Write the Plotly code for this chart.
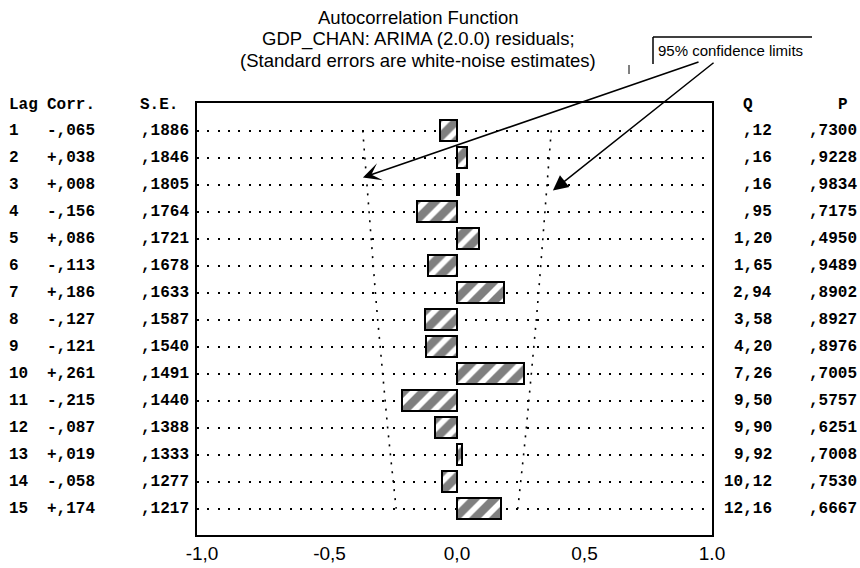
import plotly.graph_objects as go

# ---------------- data ----------------
lags = list(range(1, 16))
corr = [-0.065, 0.038, 0.008, -0.156, 0.086, -0.113, 0.186, -0.127,
        -0.121, 0.261, -0.215, -0.087, 0.019, -0.058, 0.174]
se = [0.1886, 0.1846, 0.1805, 0.1764, 0.1721, 0.1678, 0.1633, 0.1587,
      0.1540, 0.1491, 0.1440, 0.1388, 0.1333, 0.1277, 0.1217]
q_stat = [0.12, 0.16, 0.16, 0.95, 1.20, 1.65, 2.94, 3.58, 4.20, 7.26,
          9.50, 9.90, 9.92, 10.12, 12.16]
p_val = [0.7300, 0.9228, 0.9834, 0.7175, 0.4950, 0.9489, 0.8902, 0.8927,
         0.8976, 0.7005, 0.5757, 0.6251, 0.7008, 0.7530, 0.6667]
tick_vals = [-1, -0.5, 0, 0.5, 1]
tick_text = ["-1,0", "-0,5", "0,0", "0,5", "1.0"]
title_lines = ["Autocorrelation Function",
               "GDP_CHAN: ARIMA (2.0.0) residuals;",
               "(Standard errors are white-noise estimates)"]
conf_label = "95% confidence limits"
z = 1.96

# ---------------- layout geometry (pixels) ----------------
W, H = 860, 568
L, R, T, B = 197, 712, 103, 535
PW, PH = R - L, B - T


def px(xp):
    return (xp - L) / PW


def py(yp):
    return (B - yp) / PH


def fmt_corr(v):
    s = f"{v:+.3f}"
    return s.replace("0.", ",")


def fmt_dec(v, d):
    s = f"{v:.{d}f}"
    if s.startswith("0."):
        s = s[1:]
    return s.replace(".", ",")


fig = go.Figure()

# confidence limits
fig.add_trace(go.Scatter(x=[-z * s for s in se], y=lags, mode="lines",
                         line=dict(color="black", width=1.6, dash="2px,7px"),
                         hoverinfo="skip", showlegend=False))
fig.add_trace(go.Scatter(x=[z * s for s in se], y=lags, mode="lines",
                         line=dict(color="black", width=1.6, dash="2px,7px"),
                         hoverinfo="skip", showlegend=False))

# bars
fig.add_trace(go.Bar(x=corr, y=lags, orientation="h", width=0.75,
                     marker=dict(color="white",
                                 line=dict(color="black", width=2),
                                 pattern=dict(shape="/", fgcolor="black",
                                              bgcolor="white", size=14,
                                              solidity=0.6)),
                     showlegend=False))

mono = dict(family="Courier New, Liberation Mono, monospace", size=16,
            color="black", weight="bold")
ann = []
# header
ann.append(dict(text="Lag", x=px(7), y=0.04, xref="paper", yref="y",
                xanchor="left", yanchor="middle", showarrow=False, font=mono))
ann.append(dict(text="Corr.", x=px(45), y=0.04, xref="paper", yref="y",
                xanchor="left", yanchor="middle", showarrow=False, font=mono))
ann.append(dict(text="S.E.", x=px(138), y=0.04, xref="paper", yref="y",
                xanchor="left", yanchor="middle", showarrow=False, font=mono))
ann.append(dict(text="Q", x=px(748), y=0.04, xref="paper", yref="y",
                xanchor="center", yanchor="middle", showarrow=False, font=mono))
ann.append(dict(text="P", x=px(843), y=0.04, xref="paper", yref="y",
                xanchor="center", yanchor="middle", showarrow=False, font=mono))

for k, c, s, qv, pv in zip(lags, corr, se, q_stat, p_val):
    ann.append(dict(text=str(k), x=px(7), y=k, xref="paper", yref="y",
                    xanchor="left", yanchor="middle", showarrow=False, font=mono))
    ann.append(dict(text=fmt_corr(c), x=px(45), y=k, xref="paper", yref="y",
                    xanchor="left", yanchor="middle", showarrow=False, font=mono))
    ann.append(dict(text=fmt_dec(s, 4), x=px(191), y=k, xref="paper", yref="y",
                    xanchor="right", yanchor="middle", showarrow=False, font=mono))
    ann.append(dict(text=fmt_dec(qv, 2), x=px(774), y=k, xref="paper", yref="y",
                    xanchor="right", yanchor="middle", showarrow=False, font=mono))
    ann.append(dict(text=fmt_dec(pv, 4), x=px(859), y=k, xref="paper", yref="y",
                    xanchor="right", yanchor="middle", showarrow=False, font=mono))

# title
for line, yp in zip(title_lines, [18, 39, 60]):
    ann.append(dict(text=line, x=px(418), y=py(yp), xref="paper", yref="paper",
                    xanchor="center", yanchor="middle", showarrow=False,
                    font=dict(family="Arial, Liberation Sans", size=18.5,
                              color="black")))

# confidence label
ann.append(dict(text=conf_label, x=px(656), y=py(50), xref="paper", yref="paper",
                xanchor="left", yanchor="middle", showarrow=False,
                font=dict(family="Arial, Liberation Sans", size=15, color="black")))

# arrows (tip and tail in data coords)
ann.append(dict(text="", x=-0.369, y=2.74, ax=0.953, ay=-1.556,
                xref="x", yref="y", axref="x", ayref="y", showarrow=True,
                arrowhead=3, arrowsize=2.0, arrowwidth=1.5, arrowcolor="black"))
ann.append(dict(text="", x=0.376, y=3.22, ax=1.012, ay=-1.556,
                xref="x", yref="y", axref="x", ayref="y", showarrow=True,
                arrowhead=2, arrowsize=2.0, arrowwidth=1.5, arrowcolor="black"))

shapes = [
    dict(type="line", xref="paper", yref="paper", x0=px(653), x1=px(653),
         y0=py(37), y1=py(64), line=dict(color="black", width=1.5)),
    dict(type="line", xref="paper", yref="paper", x0=px(653), x1=px(812),
         y0=py(37), y1=py(37), line=dict(color="black", width=1.5)),
    dict(type="line", xref="paper", yref="paper", x0=px(629), x1=px(629),
         y0=py(65), y1=py(74), line=dict(color="black", width=1)),
]

fig.update_layout(
    width=W, height=H,
    margin=dict(l=L, r=W - R, t=T, b=H - B, pad=0),
    paper_bgcolor="white", plot_bgcolor="white",
    showlegend=False, bargap=0,
    annotations=ann, shapes=shapes,
    xaxis=dict(range=[-1.0196, 1.0], tickvals=tick_vals, ticktext=tick_text,
               showgrid=False, zeroline=False, ticks="",
               showline=True, mirror=True, linecolor="black", linewidth=2,
               tickfont=dict(family="Arial, Liberation Sans", size=19,
                             color="black"),
               automargin=False, fixedrange=True),
    yaxis=dict(range=[15.98, -0.02], tickvals=lags, showticklabels=False,
               showgrid=True, gridcolor="black", gridwidth=1.6,
               griddash="2px,8.3px", zeroline=False, ticks="",
               showline=True, mirror=True, linecolor="black", linewidth=2,
               automargin=False, fixedrange=True),
)

fig.write_html("out.html")
